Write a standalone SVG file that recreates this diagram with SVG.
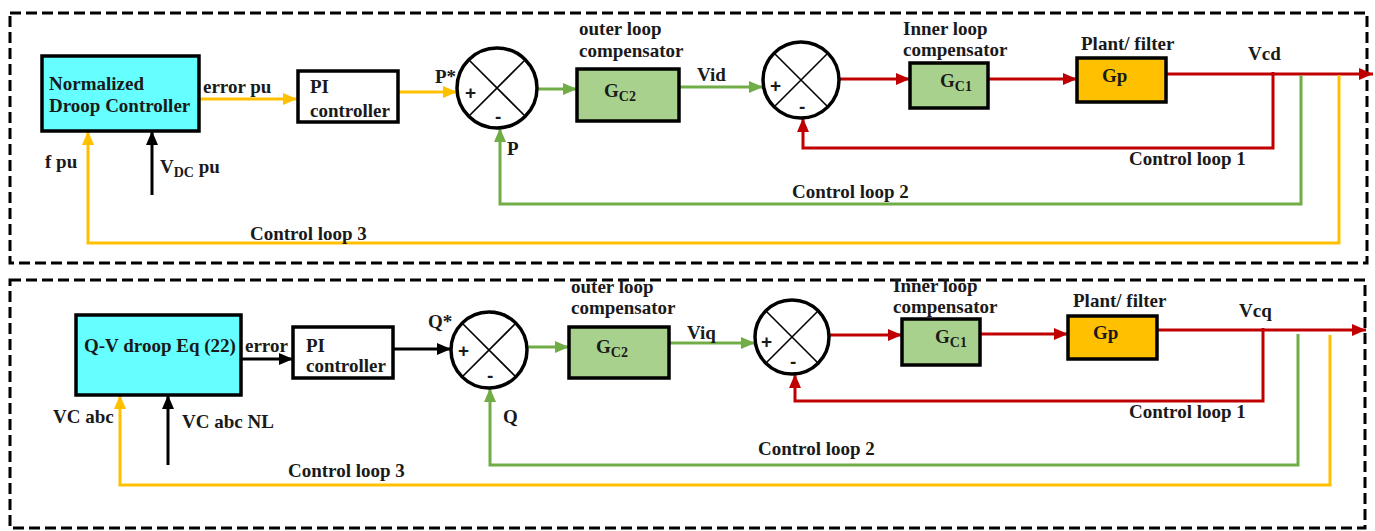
<svg xmlns="http://www.w3.org/2000/svg" width="1375" height="531" viewBox="0 0 1375 531" font-family="'Liberation Serif', 'Times New Roman', serif">
<style>
text{font-family:'Liberation Serif','Times New Roman',serif;font-weight:bold;font-size:19px;fill:#1a1a1a}
.sub{font-size:14px}
.pm{font-family:'Liberation Sans',sans-serif;font-size:19px}
.frame{fill:none;stroke:#000;stroke-width:3;stroke-dasharray:11 5}
.box{stroke:#000;stroke-width:3.5}
.sum{fill:#fff;stroke:#000;stroke-width:3.5}
.x{stroke:#000;stroke-width:1.6}
.c{fill:none;stroke-width:3}
.y{stroke:#FFC000}.g{stroke:#70AD47}.r{stroke:#C00000}.k{stroke:#000}
</style>
<defs>
<marker id="aY" markerWidth="14" markerHeight="12" refX="14" refY="6" orient="auto" markerUnits="userSpaceOnUse"><path d="M0,0 L14,6 L0,12 z" fill="#FFC000"/></marker>
<marker id="aG" markerWidth="14" markerHeight="12" refX="14" refY="6" orient="auto" markerUnits="userSpaceOnUse"><path d="M0,0 L14,6 L0,12 z" fill="#70AD47"/></marker>
<marker id="aR" markerWidth="14" markerHeight="12" refX="14" refY="6" orient="auto" markerUnits="userSpaceOnUse"><path d="M0,0 L14,6 L0,12 z" fill="#C00000"/></marker>
<marker id="aK" markerWidth="14" markerHeight="12" refX="14" refY="6" orient="auto" markerUnits="userSpaceOnUse"><path d="M0,0 L14,6 L0,12 z" fill="#000"/></marker>
</defs>
<rect width="1375" height="531" fill="#fff"/>
<rect class="frame" x="10" y="13" width="1357" height="250"/>
<rect class="frame" x="10" y="280" width="1355" height="248"/>

<g id="connectors">
<path class="c y" d="M199,99 H297" marker-end="url(#aY)"/>
<path class="c y" d="M398,92 H457" marker-end="url(#aY)"/>
<path class="c g" d="M537,89 H577" marker-end="url(#aG)"/>
<path class="c g" d="M679,87 H763" marker-end="url(#aG)"/>
<path class="c r" d="M839,79 H910" marker-end="url(#aR)"/>
<path class="c r" d="M988,79 H1077" marker-end="url(#aR)"/>
<path class="c r" d="M1166,74 H1373" marker-end="url(#aR)"/>
<path class="c r" d="M1273,72 V148 H803 V118" marker-end="url(#aR)"/>
<path class="c g" d="M1301,75 V204 H500 V128" marker-end="url(#aG)"/>
<path class="c y" d="M1339,75 V243 H88 V131" marker-end="url(#aY)"/>
<path class="c k" d="M152,195 V131" marker-end="url(#aK)"/>

<path class="c k" d="M241,359 H293" marker-end="url(#aK)"/>
<path class="c k" d="M393,349 H451" marker-end="url(#aK)"/>
<path class="c g" d="M527,347 H569" marker-end="url(#aG)"/>
<path class="c g" d="M669,343 H755" marker-end="url(#aG)"/>
<path class="c r" d="M829,335 H902" marker-end="url(#aR)"/>
<path class="c r" d="M980,334 H1068" marker-end="url(#aR)"/>
<path class="c r" d="M1157,330 H1366" marker-end="url(#aR)"/>
<path class="c r" d="M1263,328 V401 H795 V374" marker-end="url(#aR)"/>
<path class="c g" d="M1298,334 V465 H490 V388" marker-end="url(#aG)"/>
<path class="c y" d="M1330,335 V485 H120 V395" marker-end="url(#aY)"/>
<path class="c k" d="M168,465 V395" marker-end="url(#aK)"/>
</g>

<!-- Top panel -->
<g id="droop1">
<rect class="box" x="42" y="56" width="157" height="75" fill="#66FFFF"/>
<text x="49" y="90">Normalized</text>
<text x="49" y="112">Droop Controller</text>
</g>
<g id="pi1">
<rect class="box" x="298" y="71" width="100" height="51" fill="#fff"/>
<text x="310" y="93">PI</text>
<text x="310" y="117">controller</text>
</g>
<g id="sum1">
<circle class="sum" cx="497" cy="88" r="40"/>
<path class="x" d="M469,60 L525,116 M525,60 L469,116"/>
<text class="pm" x="465" y="99">+</text>
<text class="pm" x="495" y="123">-</text>
</g>
<g id="gc2a">
<rect class="box" x="577" y="69" width="102" height="52" fill="#A9D18E"/>
<text x="604" y="97">G<tspan class="sub" dy="4">C2</tspan></text>
</g>
<g id="sum2">
<circle class="sum" cx="801" cy="80" r="38"/>
<path class="x" d="M774,53 L828,107 M828,53 L774,107"/>
<text class="pm" x="770" y="92">+</text>
<text class="pm" x="799" y="113">-</text>
</g>
<g id="gc1a">
<rect class="box" x="910" y="63" width="78" height="45" fill="#A9D18E"/>
<text x="940" y="87">G<tspan class="sub" dy="4">C1</tspan></text>
</g>
<g id="gp1">
<rect class="box" x="1077" y="58" width="89" height="44" fill="#FFC000"/>
<text x="1102" y="82">Gp</text>
</g>
<g id="labels1">
<text x="203" y="93">error pu</text>
<text x="435" y="83">P*</text>
<text x="579" y="35">outer loop</text>
<text x="579" y="57">compensator</text>
<text x="697" y="81">Vid</text>
<text x="903" y="35">Inner loop</text>
<text x="903" y="56">compensator</text>
<text x="1081" y="50">Plant/ filter</text>
<text x="1248" y="60">Vcd</text>
<text x="1129" y="165">Control loop 1</text>
<text x="792" y="198">Control loop 2</text>
<text x="250" y="240">Control loop 3</text>
<text x="507" y="155">P</text>
<text x="45" y="168">f pu</text>
<text x="160" y="173">V<tspan class="sub" dy="4">DC</tspan><tspan dy="-4"> pu</tspan></text>
</g>

<!-- Bottom panel -->
<g id="droop2">
<rect class="box" x="76" y="315" width="165" height="80" fill="#66FFFF"/>
<text x="84" y="352">Q-V droop Eq (22)</text>
</g>
<g id="pi2">
<rect class="box" x="293" y="327" width="100" height="51" fill="#fff"/>
<text x="306" y="352">PI</text>
<text x="306" y="372">controller</text>
</g>
<g id="sum3">
<circle class="sum" cx="489" cy="350" r="38"/>
<path class="x" d="M462,323 L516,377 M516,323 L462,377"/>
<text class="pm" x="458" y="357">+</text>
<text class="pm" x="487" y="382">-</text>
</g>
<g id="gc2b">
<rect class="box" x="569" y="327" width="100" height="51" fill="#A9D18E"/>
<text x="596" y="353">G<tspan class="sub" dy="4">C2</tspan></text>
</g>
<g id="sum4">
<circle class="sum" cx="792" cy="337" r="37"/>
<path class="x" d="M766,311 L818,363 M818,311 L766,363"/>
<text class="pm" x="761" y="348">+</text>
<text class="pm" x="790" y="368">-</text>
</g>
<g id="gc1b">
<rect class="box" x="902" y="319" width="78" height="46" fill="#A9D18E"/>
<text x="935" y="343">G<tspan class="sub" dy="4">C1</tspan></text>
</g>
<g id="gp2">
<rect class="box" x="1068" y="316" width="89" height="43" fill="#FFC000"/>
<text x="1093" y="339">Gp</text>
</g>
<g id="labels2">
<text x="245" y="352">error</text>
<text x="428" y="328">Q*</text>
<text x="571" y="293">outer loop</text>
<text x="571" y="314">compensator</text>
<text x="687" y="339">Viq</text>
<text x="893" y="292">Inner loop</text>
<text x="893" y="313">compensator</text>
<text x="1073" y="307">Plant/ filter</text>
<text x="1239" y="317">Vcq</text>
<text x="1129" y="418">Control loop 1</text>
<text x="758" y="455">Control loop 2</text>
<text x="288" y="477">Control loop 3</text>
<text x="503" y="423">Q</text>
<text x="53" y="423">VC abc</text>
<text x="182" y="428">VC abc NL</text>
</g>
</svg>
